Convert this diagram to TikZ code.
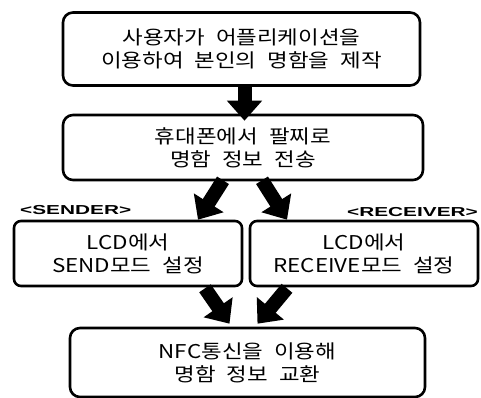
\documentclass[tikz,border=0pt]{standalone}
\usepackage{fontspec}
\usepackage{tikz}
\usetikzlibrary{arrows.meta, calc}
\newfontfamily\kofont{Noto Sans CJK KR}[FakeStretch=1.18, WordSpace=2.2]
\newfontfamily\tagfont{Liberation Sans}[FakeStretch=1.6]

\begin{document}
\begin{tikzpicture}[x=1pt, y=-1pt,
    box/.style={draw, rounded corners=10pt, line width=2.6pt, fill=white,
                align=center, inner sep=0pt, font=\kofont\fontsize{19}{23}\selectfont},
    fat/.style={line width=14pt, -{Triangle[width=34pt, length=20pt]}},
    tag/.style={font=\tagfont\bfseries\fontsize{13}{15}\selectfont, inner sep=0pt},
]
    \useasboundingbox (0,0) rectangle (481,398);

    % Top boxes
    \node[box, minimum width=357pt, minimum height=73pt] (make) at (241.5, 49) {사용자가 어플리케이션을\\이용하여 본인의 명함을 제작};
    \node[box, minimum width=360pt, minimum height=65pt] (send) at (243, 147.5) {휴대폰에서 팔찌로\\명함 정보 전송};

    % Modes
    \node[box, rounded corners=7pt, minimum width=228pt, minimum height=65pt] (sender) at (128, 253.5) {LCD에서\\SEND모드 설정};
    \node[box, rounded corners=7pt, minimum width=228pt, minimum height=65pt] (receiver) at (364, 253.5) {LCD에서\\RECEIVE모드 설정};
    \node[tag, anchor=west] (sendtag) at (20, 210) {<SENDER>};
    \node[tag, anchor=east] (recvtag) at (478, 212) {<RECEIVER>};

    % Exchange
    \node[box, minimum width=355pt, minimum height=69pt] (nfc) at (247.5, 362.5) {NFC통신을 이용해\\명함 정보 교환};

    % Arrows
    \draw[fat] ($(make.south)+(3,-1)$) -- ($(send.north)+(1.5,7)$);
    \draw[fat] ($(send.south)+(-20,-1)$) -- ($(sender.north)+(70,0)$);
    \draw[fat] ($(send.south)+(19,-1)$) -- ($(receiver.north)+(-77,0)$);
    \draw[fat] ($(sender.south)+(77,1)$) -- ($(nfc.north)+(-18,-3)$);
    \draw[fat] ($(receiver.south)+(-77,1)$) -- ($(nfc.north)+(10,-3)$);

\end{tikzpicture}
\end{document}
